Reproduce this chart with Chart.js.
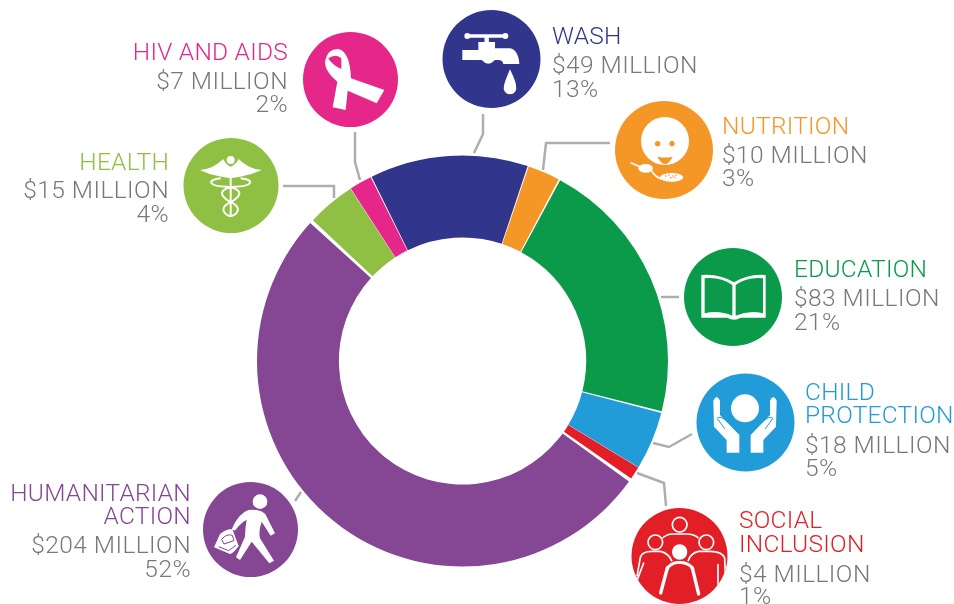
<!DOCTYPE html>
<html><head><meta charset="utf-8">
<script src="https://cdn.jsdelivr.net/npm/chart.js@4"></script>
<style>html,body{margin:0;padding:0;background:#fff;overflow:hidden}#c{display:block}</style>
</head><body><div style="width:954px;height:604px"><canvas id="c" width="954" height="604"></canvas></div>
<script>
const categories=["WASH","NUTRITION","EDUCATION","CHILD PROTECTION","SOCIAL INCLUSION","HUMANITARIAN ACTION","HEALTH","HIV AND AIDS"];
const values=[49,10,83,18,4,204,15,7];
const amounts=["$49 MILLION","$10 MILLION","$83 MILLION","$18 MILLION","$4 MILLION","$204 MILLION","$15 MILLION","$7 MILLION"];
const shares=["13%","3%","21%","5%","1%","52%","4%","2%"];
const colours=["#31368c","#f59727","#0b9a4a","#229cd8","#e21f26","#854794","#8fc043","#e5278a"];
const titleLines=[["WASH"],["NUTRITION"],["EDUCATION"],["CHILD","PROTECTION"],["SOCIAL","INCLUSION"],["HUMANITARIAN","ACTION"],["HEALTH"],["HIV AND AIDS"]];

const textLayout=[
 {x:552,a:"left",y:[44,73,97]},
 {x:722,a:"left",y:[134,163,186]},
 {x:794,a:"left",y:[277,306,330]},
 {x:805,a:"left",y:[400,423,453,476]},
 {x:739,a:"left",y:[528,552,582,604]},
 {x:191,a:"right",y:[501,524,553,577]},
 {x:169,a:"right",y:[170,198,222]},
 {x:288,a:"right",y:[60,89,112]}
];
const badges=[[491.5,59,49],[664,150,49],[733,297,49],[745.5,422.5,49],[679.5,556,48],[250.5,529.5,47.5],[231,185.5,47.5],[350.5,79.5,47.5]];
const leaders=[
 [[483,114],[483,134],[474,153]],
 [[610,143],[546,143],[543,170]],
 [[661,297],[679,297]],
 [[653,443],[669,447],[692,434]],
 [[637,473],[664,483],[666,506]],
 [[295,501],[301,492]],
 [[283,186],[334,186],[334,198]],
 [[355,132],[355,162],[360,180]]
];

function P(s){return new Path2D(s)}
function fillP(ctx,s,c){ctx.fillStyle=c||"#fff";ctx.fill(P(s))}
function strokeP(ctx,s,w,c,cap){ctx.strokeStyle=c||"#fff";ctx.lineWidth=w;ctx.lineCap=cap||"butt";ctx.lineJoin="round";ctx.stroke(P(s))}
function disc(ctx,x,y,r,c){ctx.fillStyle=c||"#fff";ctx.beginPath();ctx.arc(x,y,r,0,Math.PI*2);ctx.fill()}
function ring(ctx,x,y,r,w){ctx.strokeStyle="#fff";ctx.lineWidth=w;ctx.beginPath();ctx.arc(x,y,r,0,Math.PI*2);ctx.stroke()}
function ell(ctx,x,y,a,b,c,rot){ctx.fillStyle=c||"#fff";ctx.beginPath();ctx.ellipse(x,y,a,b,rot||0,0,Math.PI*2);ctx.fill()}

const icons=[
 {o:[180,0],draw(ctx){
  strokeP(ctx,"M862 108L976 108",10,"#fff","round");disc(ctx,862,108,9);disc(ctx,976,108,9);
  strokeP(ctx,"M920 108L920 130",13);
  fillP(ctx,"M847 150L895 150L895 126L945 126L945 145L990 145Q1015 150 1018 192L970 192Q968 180 955 180L945 180Q925 202 905 180L847 180Z");
  fillP(ctx,"M990 208Q1010 250 1008 258A19 19 0 1 1 972 258Q972 250 990 208Z");
 }},
 {o:[600,90],draw(ctx){
  const c=colours[1];
  disc(ctx,195,153,72);disc(ctx,173,161,8,c);disc(ctx,216,161,8,c);
  fillP(ctx,"M172 200Q195 205 218 200Q207 222 195 222Q183 222 172 200Z",c);
  ell(ctx,137,235,27,19,c);ell(ctx,137,235,22,13);
  strokeP(ctx,"M92 218L120 230",5);strokeP(ctx,"M155 243Q170 268 195 268",5);
  ell(ctx,215,262,35,13);
  for(const [x,y] of [[197,258],[207,255],[218,258],[228,256],[212,263],[224,262]])disc(ctx,x,y,2.5,c);
 }},
 {o:[684,250],draw(ctx){
  const c=colours[2];
  fillP(ctx,"M150 97Q105 70 52 75L52 203L130 203Q140 209 150 209Q160 209 170 203L245 203L245 75Q195 70 150 97Z");
  fillP(ctx,"M62 85Q110 80 145 105L145 197Q105 180 62 190Z",c);
  fillP(ctx,"M155 105Q190 80 237 85L237 190Q195 180 155 197Z",c);
 }},
 {o:[620,360],draw(ctx){
  const c=colours[3];
  disc(ctx,375,145,42);
  for(const m of [0,1]){
   ctx.save();if(m){ctx.translate(750,0);ctx.scale(-1,1)}
   fillP(ctx,"M280 122Q290 100 300 122L300 165L358 225L358 278L320 278L320 240L282 200Z");
   strokeP(ctx,"M292 174Q300 165 322 185",3,c,"round");
   strokeP(ctx,"M292 176L314 206",3,c,"round");
   ctx.restore();
  }
 }},
 {o:[632,508],draw(ctx){
  ctx.save();ctx.beginPath();ctx.arc(142.5,144,144,0,Math.PI*2);ctx.clip();
  ring(ctx,143,50,22,5);ring(ctx,70,103,22,5);ring(ctx,223,103,22,5);
  strokeP(ctx,"M92 90Q105 78 122 78L165 78Q185 78 200 90",5);
  strokeP(ctx,"M15 205L25 148Q30 130 60 130L85 130Q110 135 120 160",5);
  strokeP(ctx,"M280 205L278 150Q270 130 235 130L200 130Q175 135 168 160",5);
  strokeP(ctx,"M35 165L16 215",5,"#fff","round");
  strokeP(ctx,"M258 170L258 232",5,"#fff","round");
  strokeP(ctx,"M105 185Q112 165 143 163Q175 165 183 185",9);
  strokeP(ctx,"M106 180L86 255",10,"#fff","round");
  strokeP(ctx,"M181 180L200 258",10,"#fff","round");
  disc(ctx,143,132,27,colours[4]);disc(ctx,143,132,23);
  ctx.restore();
 }},
 {o:[0,470],draw(ctx){
  const c=colours[5];
  disc(ctx,780,95,22);
  fillP(ctx,"M745 120Q790 115 800 140L825 190L812 197L785 155Q775 185 780 205L822 272L808 280L755 215L720 270L708 262L735 200Q735 175 740 150Q725 155 705 182L695 178Q715 130 745 120Z");
  fillP(ctx,"M660 192Q680 175 697 178L716 228Q700 250 690 252L642 232Z");
  strokeP(ctx,"M665 208Q680 190 697 196L702 212L672 222Z",3,c);
  strokeP(ctx,"M656 230L686 242L708 226",3,c);
 }},
 {o:[190,145],draw(ctx){
  const c=colours[6];
  strokeP(ctx,"M122 95L122 214",6);
  const snake="M92 100Q60 104 64 114Q72 125 110 125Q142 128 148 142Q150 155 125 170Q100 180 100 195Q105 210 122 214";
  strokeP(ctx,snake,6);
  ctx.save();ctx.translate(244,0);ctx.scale(-1,1);strokeP(ctx,snake,6);ctx.restore();
  fillP(ctx,"M30 75Q70 72 100 42Q108 60 122 65Q136 60 146 42Q175 72 215 75Q180 90 150 95L122 100L95 95Q60 90 30 75Z");
  disc(ctx,122,45,16,c);disc(ctx,122,45,12);
 }},
 {o:[180,0],draw(ctx){
  const c=colours[7];
  fillP(ctx,"M458 322L472 245Q430 210 436 180Q445 145 475 147Q510 155 513 235L613 270L590 310L568 300L503 272L497 330Z");
  fillP(ctx,"M445 175Q468 160 484 175L484 207Q455 195 445 175Z",c);
 }}
];

const overlay={id:"overlay",afterDraw(chart){
 const ctx=chart.ctx;
 ctx.save();
 ctx.strokeStyle="#aeaeae";ctx.lineWidth=2.5;ctx.lineJoin="miter";ctx.lineCap="butt";
 leaders.forEach(l=>{ctx.beginPath();l.forEach((p,i)=>i?ctx.lineTo(p[0],p[1]):ctx.moveTo(p[0],p[1]));ctx.stroke()});
 badges.forEach((b,i)=>{
  disc(ctx,b[0],b[1],b[2],colours[i]);
  ctx.save();ctx.setTransform(1/3,0,0,1/3,icons[i].o[0],icons[i].o[1]);icons[i].draw(ctx);ctx.restore();
 });
 ctx.font='300 24.5px Roboto';ctx.textBaseline="alphabetic";
 categories.forEach((n,i)=>{
  const t=textLayout[i];ctx.textAlign=t.a;
  const lines=[...titleLines[i],amounts[i],shares[i]];
  lines.forEach((s,j)=>{
   const isTitle=j<titleLines[i].length;
   ctx.fillStyle=isTitle?colours[i]:"#77787b";
   ctx.letterSpacing=isTitle?"0.25px":"0.45px";
   ctx.fillText(s,t.x,t.y[j]);
  });
 });
 ctx.restore();
}};

new Chart(document.getElementById("c"),{
 type:"doughnut",
 data:{labels:categories,datasets:[{data:values,backgroundColor:colours,borderWidth:0,spacing:3.5}]},
 options:{responsive:false,animation:false,rotation:-26.5,cutout:"59.8%",
  layout:{padding:{left:257,right:286,top:155,bottom:37}},
  plugins:{legend:{display:false},tooltip:{enabled:false},title:{display:false}}},
 plugins:[overlay]
});
</script></body></html>
